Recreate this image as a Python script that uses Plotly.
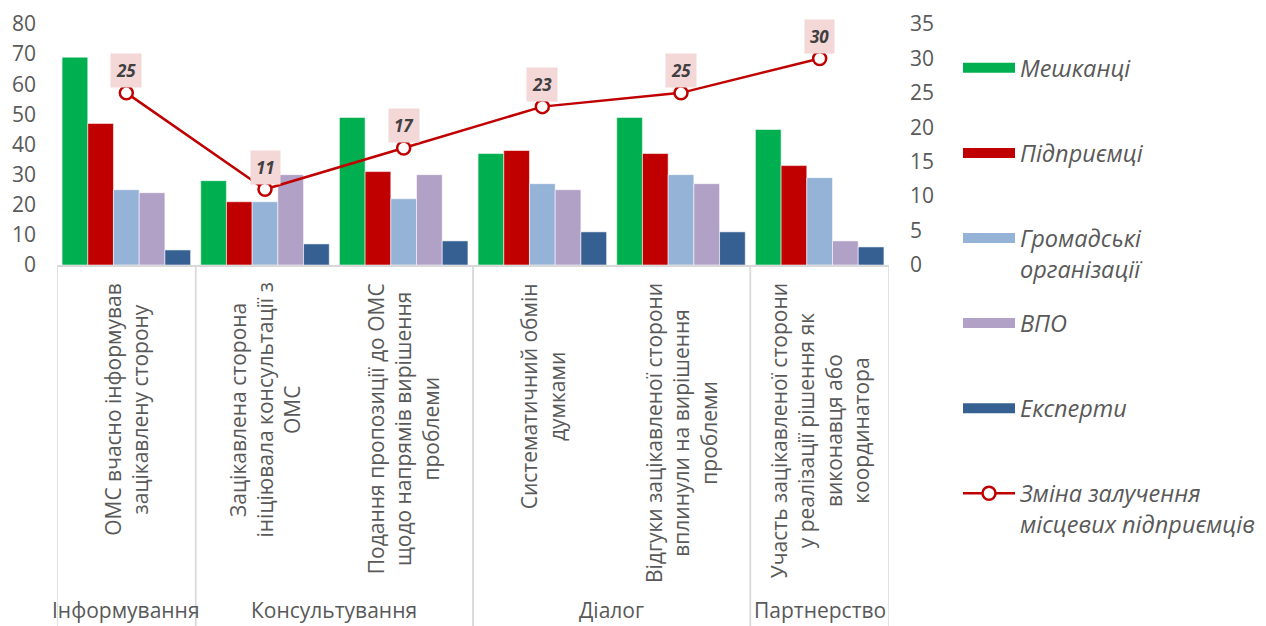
import plotly.graph_objects as go

categories = [
    "ОМС вчасно інформував<br>зацікавлену сторону",
    "Зацікавлена сторона<br>ініціювала консультації з<br>ОМС",
    "Подання пропозиції до ОМС<br>щодо напрямів вирішення<br>проблеми",
    "Систематичний обмін<br>думками",
    "Відгуки зацікавленої сторони<br>вплинули на вирішення<br>проблеми",
    "Участь зацікавленої сторони<br>у реалізації рішення як<br>виконавця або<br>координатора",
]
groups = ["Інформування", "Консультування", "Консультування", "Діалог", "Діалог", "Партнерство"]

residents = [69, 28, 49, 37, 49, 45]
entrepreneurs = [47, 21, 31, 38, 37, 33]
ngos = [25, 21, 22, 27, 30, 29]
idps = [24, 30, 30, 25, 27, 8]
experts = [5, 7, 8, 11, 11, 6]
engagement_change = [25, 11, 17, 23, 25, 30]

bar_series = [
    ("Мешканці<br>\u00a0", residents, "#00B050"),
    ("Підприємці<br>\u00a0", entrepreneurs, "#C00000"),
    ("Громадські<br>організації", ngos, "#95B3D7"),
    ("ВПО<br>\u00a0", idps, "#B2A1C7"),
    ("Експерти<br>\u00a0", experts, "#366092"),
]
line_name = "Зміна залучення<br>місцевих підприємців"

FONT = "Open Sans"
GRAY = "#595959"

fig = go.Figure()
for i, (name, vals, color) in enumerate(bar_series):
    fig.add_trace(go.Bar(
        x=categories, y=vals, name=name, showlegend=False,
        marker=dict(color=color, line=dict(color="rgba(255,255,255,0.55)", width=1)),
        hoverinfo="skip",
    ))
    # legend swatch (wide rectangle like the original)
    fig.add_trace(go.Scatter(
        x=[None], y=[None], name=name, legendgroup=f"g{i}", mode="lines",
        line=dict(color=color, width=15), hoverinfo="skip",
    ))

fig.add_trace(go.Scatter(
    x=categories, y=engagement_change, yaxis="y2",
    name=line_name, legendgroup="g5",
    mode="lines+markers",
    line=dict(color="#C00000", width=2.5),
    marker=dict(symbol="circle", size=13, color="white", line=dict(color="#C00000", width=2.5)),
    hoverinfo="skip",
))

annotations = []
for c, v in zip(categories, engagement_change):
    annotations.append(dict(
        x=c, y=v, xref="x", yref="y2", text=str(v), showarrow=False,
        yshift=22, xanchor="center", yanchor="middle",
        font=dict(family=FONT, size=17, color="#404040", weight="bold", style="italic"),
        bgcolor="#F4D7D7", borderpad=5,
    ))
for c in categories:
    annotations.append(dict(
        x=c, y=0, xref="x", yref="paper", text=c, showarrow=False,
        textangle=-90, align="center", xanchor="center", yanchor="top", yshift=-16,
        font=dict(family=FONT, size=21, color=GRAY),
    ))
shapes = []
unique_groups = []
for g in groups:
    if g not in unique_groups:
        unique_groups.append(g)
for g in unique_groups:
    idx = [i for i, gg in enumerate(groups) if gg == g]
    center = sum(idx) / len(idx)
    annotations.append(dict(
        x=center, y=-1.43, xref="x", yref="paper", text=g, showarrow=False,
        xanchor="center", yanchor="middle",
        font=dict(family=FONT, size=21, color=GRAY),
    ))
    for b in (min(idx) - 0.5, max(idx) + 0.5):
        shapes.append(dict(type="line", xref="x", yref="paper", x0=b, x1=b, y0=0, y1=-1.52,
                           line=dict(color="#D9D9D9", width=1.5)))

# the page body has an 8px margin, so the figure is sized/offset to compensate
W, H = 1258, 618
fig.update_layout(
    width=W, height=H,
    margin=dict(l=49, r=377, t=16, b=361, autoexpand=False),
    paper_bgcolor="white", plot_bgcolor="white",
    barmode="group", bargap=0.073, bargroupgap=0,
    font=dict(family=FONT, color=GRAY),
    xaxis=dict(type="category", showticklabels=False, showgrid=False, zeroline=False,
               showline=True, linecolor="#D9D9D9", linewidth=2, ticks="", automargin=False,
               range=[-0.5, len(categories) - 0.5]),
    yaxis=dict(range=[0, 80], dtick=10, showgrid=False, zeroline=False, showline=False,
               automargin=False,
               tickfont=dict(family=FONT, size=21, color=GRAY), ticks="", ticklabelstandoff=20),
    yaxis2=dict(range=[0, 35], dtick=5, overlaying="y", side="right", showgrid=False,
                zeroline=False, showline=False, ticks="", automargin=False,
                tickfont=dict(family=FONT, size=21, color=GRAY), ticklabelstandoff=20),
    legend=dict(xref="container", yref="container", x=950 / W, xanchor="left",
                y=1 - 38 / H, yanchor="top", traceorder="grouped",
                tracegroupgap=21, itemwidth=52, valign="top", maxheight=600,
                font=dict(family=FONT, size=23.5, color=GRAY, style="italic"),
                bgcolor="rgba(0,0,0,0)"),
    annotations=annotations,
    shapes=shapes,
    showlegend=True,
)

fig.write_html("out.html")
